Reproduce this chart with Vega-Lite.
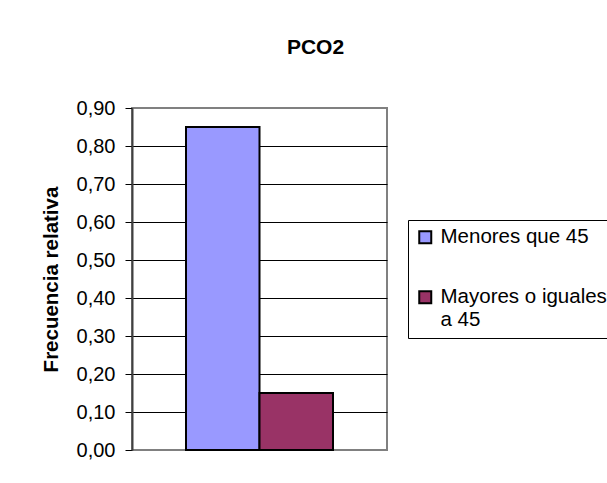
{
  "$schema": "https://vega.github.io/schema/vega-lite/v6.json",
  "width": 255,
  "height": 342,
  "autosize": {"type": "none"},
  "padding": {"left": 132, "top": 108, "right": 220, "bottom": 33},
  "background": "white",
  "title": {
    "text": "PCO2",
    "anchor": "middle",
    "frame": "group",
    "font": "Liberation Sans",
    "fontSize": 21,
    "fontWeight": "bold",
    "color": "#000000",
    "dx": 56,
    "offset": 40
  },
  "data": {
    "values": [
      {"grupo": "Menores que 45", "frecuencia": 0.85},
      {"grupo": "Mayores o iguales a 45", "frecuencia": 0.15}
    ]
  },
  "mark": {"type": "bar", "stroke": "#000000", "strokeWidth": 2},
  "encoding": {
    "x": {
      "field": "grupo",
      "type": "nominal",
      "sort": ["Menores que 45", "Mayores o iguales a 45"],
      "scale": {"paddingInner": 0, "paddingOuter": 0.7347},
      "axis": null
    },
    "y": {
      "field": "frecuencia",
      "type": "quantitative",
      "scale": {"domain": [0, 0.9], "nice": false, "zero": true},
      "axis": {
        "title": "Frecuencia relativa",
        "titleFont": "Liberation Sans",
        "titleFontSize": 20.5,
        "titleFontWeight": "bold",
        "titleColor": "#000000",
        "titlePadding": 15,
        "values": [0, 0.1, 0.2, 0.3, 0.4, 0.5, 0.6, 0.7, 0.8, 0.9],
        "labelExpr": "replace(format(datum.value, '.2f'), '.', ',')",
        "labelFont": "Liberation Sans",
        "labelFontSize": 20,
        "labelColor": "#000000",
        "labelPadding": 10,
        "tickSize": 7,
        "tickColor": "#000000",
        "domainColor": "#404040",
        "domainWidth": 2,
        "grid": true,
        "gridColor": {"condition": {"test": "datum.value > 0.85 || datum.value < 0.05", "value": "#808080"}, "value": "#000000"}
      }
    },
    "color": {
      "field": "grupo",
      "type": "nominal",
      "sort": ["Menores que 45", "Mayores o iguales a 45"],
      "scale": {"range": ["#9999FF", "#993366"]},
      "legend": {
        "title": null,
        "orient": "none",
        "legendX": 276,
        "legendY": 112,
        "strokeColor": "#000000",
        "padding": 7,
        "symbolType": "square",
        "symbolSize": 144,
        "symbolStrokeColor": "#000000",
        "symbolStrokeWidth": 2,
        "symbolOpacity": 1,
        "labelFont": "Liberation Sans",
        "labelFontSize": 20.5,
        "labelColor": "#000000",
        "labelOffset": 5,
        "labelLimit": 400,
        "rowPadding": 39,
        "labelExpr": "datum.label == 'Mayores o iguales a 45' ? split('Mayores o iguales|a 45', '|') : datum.label"
      }
    }
  },
  "config": {
    "view": {"stroke": "#808080", "strokeWidth": 2}
  }
}
